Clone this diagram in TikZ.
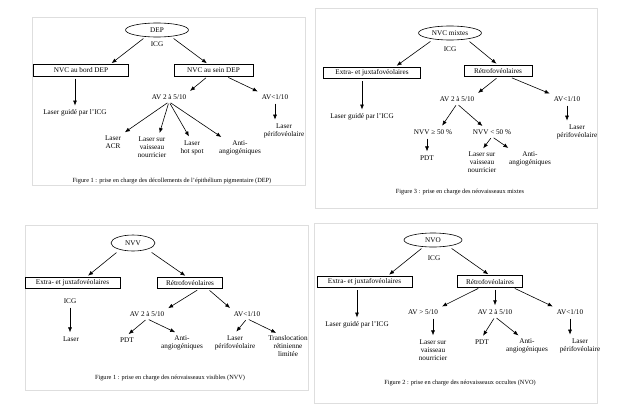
\documentclass[tikz,border=0pt]{standalone}
\usepackage{fontspec}
\setmainfont{Liberation Serif}
\usetikzlibrary{arrows.meta,shapes.geometric}

\begin{document}
\begin{tikzpicture}[x=1pt, y=-1pt,
  every node/.style={font=\fontsize{7.2}{8}\selectfont, inner sep=2pt, align=center},
  bulle/.style={draw, ellipse, line width=0.6pt, minimum width=#1, minimum height=14pt, inner sep=0pt},
  boite/.style={draw, rectangle, line width=0.6pt, minimum width=#1, minimum height=11.5pt, inner sep=0pt},
  legende/.style={font=\fontsize{6.3}{7}\selectfont},
  fleche/.style={-{Latex[length=5pt,width=4pt]}, line width=0.6pt, shorten <=2pt, shorten >=2pt},
  cadre/.style={draw=black!13, line width=0.8pt}]
\useasboundingbox (0,0) rectangle (628,418);
\draw[cadre] (32,17) rectangle (305,185);
\draw[cadre] (315,8) rectangle (597,208);
\draw[cadre] (25,225) rectangle (308,390);
\draw[cadre] (314,223) rectangle (597,403);

\node (dep)[bulle=63pt] at (157,30) {DEP};
\node (icgA) at (157,44) {ICG};
\node (bordA)[boite=95pt] at (81,70.5) {NVC au bord DEP};
\node (seinA)[boite=79pt] at (213.5,70.5) {NVC au sein DEP};
\node (laserA) at (75,113) {Laser guidé par l'ICG};
\node (avA) at (169,97) {AV 2 à 5/10};
\node (avlowA) at (275,97) {AV<1/10};
\node (periA) at (284,131) {Laser\\périfovéolaire};
\node (acrA) at (113,142) {Laser\\ACR};
\node (vaisA) at (152,147.5) {Laser sur\\vaisseau\\nourricier};
\node (hotA) at (192,147.5) {Laser\\hot spot};
\node (antiA) at (240,147.5) {Anti-\\angiogéniques};
\node (capA)[legende] at (172,181) {Figure 1 : prise en charge des décollements de l'épithélium pigmentaire (DEP)};

\node (mixB)[bulle=63pt] at (450,33) {NVC mixtes};
\node (icgB) at (450,49) {ICG};
\node (extraB)[boite=97pt] at (372,73) {Extra- et juxtafovéolaires};
\node (retroB)[boite=68pt] at (498,71) {Rétrofovéolaires};
\node (laserB) at (362,117) {Laser guidé par l'ICG};
\node (avB) at (457,99) {AV 2 à 5/10};
\node (avlowB) at (567,99) {AV<1/10};
\node (periB) at (577,132) {Laser\\périfovéolaire};
\node (nvvhB) at (433,132) {NVV ≥ 50 \%};
\node (nvvbB) at (492,132) {NVV < 50 \%};
\node (pdtB) at (427,158) {PDT};
\node (vaisB) at (482,162.5) {Laser sur\\vaisseau\\nourricier};
\node (antiB) at (530,158.5) {Anti-\\angiogéniques};
\node (capB)[legende] at (460,192) {Figure 3 : prise en charge des néovaisseaux mixtes};

\node (nvvC)[bulle=44pt, minimum height=16pt] at (133,243) {NVV};
\node (extraC)[boite=95pt] at (72.5,283) {Extra- et juxtafovéolaires};
\node (retroC)[boite=65pt] at (190,283) {Rétrofovéolaires};
\node (icgC) at (70,301) {ICG};
\node (laserC) at (71,339) {Laser};
\node (avC) at (147,314) {AV 2 à 5/10};
\node (avlowC) at (247,314) {AV<1/10};
\node (pdtC) at (127,340) {PDT};
\node (antiC) at (182,342.5) {Anti-\\angiogéniques};
\node (periC) at (235,342.5) {Laser\\périfovéolaire};
\node (transC) at (288,346.5) {Translocation\\rétinienne\\limitée};
\node (capC)[legende] at (170,378) {Figure 1 : prise en charge des néovaisseaux visibles (NVV)};

\node (nvoD)[bulle=58pt] at (433,240) {NVO};
\node (icgD) at (434,258) {ICG};
\node (extraD)[boite=95pt] at (364.5,282) {Extra- et juxtafovéolaires};
\node (retroD)[boite=65pt] at (490,281.5) {Rétrofovéolaires};
\node (laserD) at (357,325) {Laser guidé par l'ICG};
\node (avhD) at (423,312) {AV > 5/10};
\node (avD) at (495,312) {AV 2 à 5/10};
\node (avlowD) at (570,312) {AV<1/10};
\node (vaisD) at (433,350) {Laser sur\\vaisseau\\nourricier};
\node (pdtD) at (482,342) {PDT};
\node (antiD) at (527,346) {Anti-\\angiogéniques};
\node (periD) at (580,346) {Laser\\périfovéolaire};
\node (capD)[legende] at (460,383) {Figure 2 : prise en charge des néovaisseaux occultes (NVO)};

\draw[fleche] ([xshift=-12pt]dep.south) -- ([xshift=29pt]bordA.north);
\draw[fleche] ([xshift=15pt]dep.south) -- ([xshift=-5pt]seinA.north);
\draw[fleche] (laserA.north |- bordA.south) -- (laserA.north);
\draw[fleche] ([xshift=-6pt]seinA.south) -- (avA.north east);
\draw[fleche] ([xshift=13pt]seinA.south) -- (avlowA.north west);
\draw[fleche] (avlowA.south) -- (avlowA.south |- periA.north);
\draw[fleche] (avA.south) -- (acrA.north east);
\draw[fleche] (avA.south) -- ([xshift=7pt]vaisA.north);
\draw[fleche] (avA.south) -- ([xshift=-2pt]hotA.north);
\draw[fleche] (avA.south) -- ([xshift=-17pt]antiA.north);

\draw[fleche] ([xshift=-18pt]mixB.south) -- ([xshift=23pt]extraB.north);
\draw[fleche] ([xshift=18pt]mixB.south) -- (retroB.north);
\draw[fleche] (laserB.north |- extraB.south) -- (laserB.north);
\draw[fleche] (retroB.south) -- (avB.north east);
\draw[fleche] ([xshift=12pt]retroB.south) -- (avlowB.north west);
\draw[fleche] (avlowB.south) -- (avlowB.south |- periB.north);
\draw[fleche] (avB.south) -- ([xshift=8pt]nvvhB.north);
\draw[fleche] (avB.south) -- ([xshift=-8pt]nvvbB.north);
\draw[fleche] (pdtB.north |- nvvhB.south) -- (pdtB.north);
\draw[fleche] (nvvbB.south) -- (vaisB.north);
\draw[fleche] (nvvbB.south) -- ([xshift=-20pt]antiB.north);

\draw[fleche] ([xshift=-15pt]nvvC.south) -- ([xshift=14pt]extraC.north);
\draw[fleche] ([xshift=17pt]nvvC.south) -- ([xshift=-3pt]retroC.north);
\draw[fleche] (icgC.south) -- (icgC.south |- laserC.north);
\draw[fleche] ([xshift=9pt]retroC.south) -- (avC.north east);
\draw[fleche] ([xshift=18pt]retroC.south) -- (avlowC.north west);
\draw[fleche] (avC.south) -- (pdtC.north);
\draw[fleche] (avC.south) -- ([xshift=-5pt]antiC.north);
\draw[fleche] (avlowC.south) -- (periC.north);
\draw[fleche] (avlowC.south) -- ([xshift=-10pt]transC.north);

\draw[fleche] ([xshift=-10pt]nvoD.south) -- ([xshift=23pt]extraD.north);
\draw[fleche] ([xshift=17pt]nvoD.south) -- (retroD.north);
\draw[fleche] (laserD.north |- extraD.south) -- (laserD.north);
\draw[fleche] ([xshift=-10pt]retroD.south) -- (avhD.north east);
\draw[fleche] (avD.north |- retroD.south) -- (avD.north);
\draw[fleche] ([xshift=23pt]retroD.south) -- (avlowD.north west);
\draw[fleche] (vaisD.north |- avhD.south) -- (vaisD.north);
\draw[fleche] (avD.south) -- (pdtD.north);
\draw[fleche] (avD.south) -- ([xshift=-7pt]antiD.north);
\draw[fleche] (avlowD.south) -- (avlowD.south |- periD.north);
\end{tikzpicture}
\end{document}
